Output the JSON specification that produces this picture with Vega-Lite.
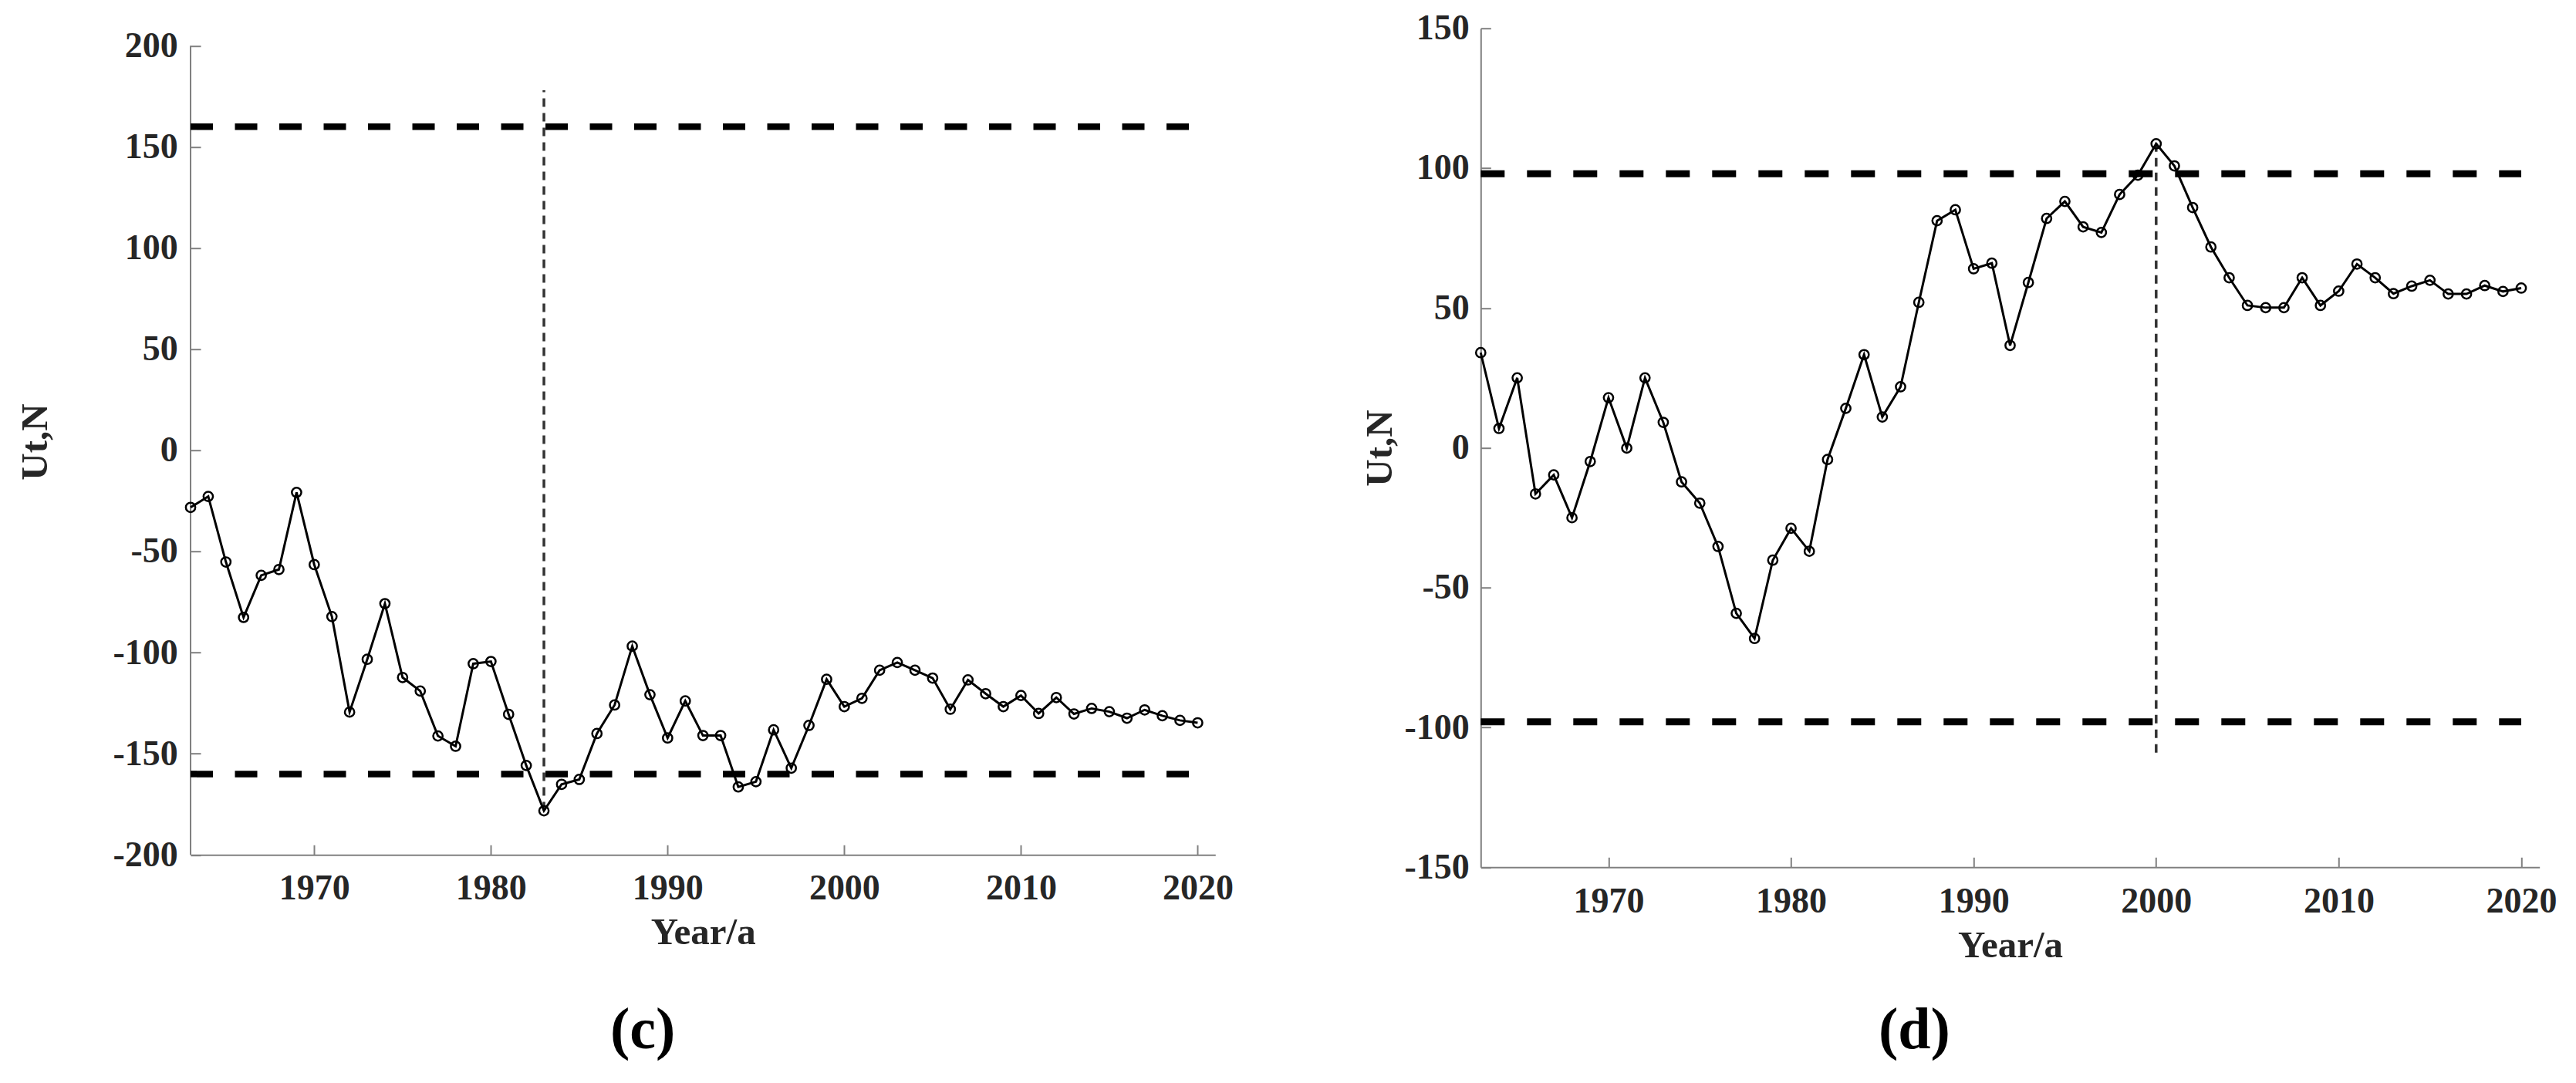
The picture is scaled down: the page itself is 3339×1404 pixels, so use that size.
{
  "$schema": "https://vega.github.io/schema/vega-lite/v6.json",
  "padding": {"left": 21, "top": 13.7, "right": 20, "bottom": 20},
  "background": "#ffffff",
  "bounds": "flush",
  "spacing": 343.3,
  "config": {
    "view": {"stroke": null},
    "font": "Liberation Serif",
    "axis": {
      "grid": false,
      "domainColor": "#808080",
      "domainWidth": 2,
      "tickColor": "#808080",
      "tickWidth": 2,
      "tickSize": -13,
      "labelFont": "Liberation Serif",
      "labelFontWeight": "bold",
      "labelFontSize": 46,
      "labelColor": "#262626",
      "labelOverlap": false,
      "labelFlush": false,
      "titleFont": "Liberation Serif",
      "titleFontWeight": "bold",
      "titleFontSize": 49,
      "titleColor": "#262626"
    }
  },
  "datasets": {
    "c": [
      {"year": 1963, "ut": -28.2}, {"year": 1964, "ut": -22.8}, {"year": 1965, "ut": -55.2}, {"year": 1966, "ut": -82.6},
      {"year": 1967, "ut": -61.8}, {"year": 1968, "ut": -58.9}, {"year": 1969, "ut": -20.8}, {"year": 1970, "ut": -56.5},
      {"year": 1971, "ut": -82.2}, {"year": 1972, "ut": -129.4}, {"year": 1973, "ut": -103.3}, {"year": 1974, "ut": -75.8},
      {"year": 1975, "ut": -112.3}, {"year": 1976, "ut": -119.0}, {"year": 1977, "ut": -141.2}, {"year": 1978, "ut": -146.3},
      {"year": 1979, "ut": -105.5}, {"year": 1980, "ut": -104.4}, {"year": 1981, "ut": -130.5}, {"year": 1982, "ut": -155.8},
      {"year": 1983, "ut": -178.2}, {"year": 1984, "ut": -165.1}, {"year": 1985, "ut": -162.7}, {"year": 1986, "ut": -140.0},
      {"year": 1987, "ut": -125.9}, {"year": 1988, "ut": -96.8}, {"year": 1989, "ut": -120.8}, {"year": 1990, "ut": -142.2},
      {"year": 1991, "ut": -123.9}, {"year": 1992, "ut": -141.0}, {"year": 1993, "ut": -141.0}, {"year": 1994, "ut": -166.4},
      {"year": 1995, "ut": -163.8}, {"year": 1996, "ut": -138.2}, {"year": 1997, "ut": -157.1}, {"year": 1998, "ut": -136.0},
      {"year": 1999, "ut": -113.2}, {"year": 2000, "ut": -126.7}, {"year": 2001, "ut": -122.6}, {"year": 2002, "ut": -108.7},
      {"year": 2003, "ut": -104.9}, {"year": 2004, "ut": -108.7}, {"year": 2005, "ut": -112.6}, {"year": 2006, "ut": -128.0},
      {"year": 2007, "ut": -113.5}, {"year": 2008, "ut": -120.3}, {"year": 2009, "ut": -126.7}, {"year": 2010, "ut": -121.2},
      {"year": 2011, "ut": -130.1}, {"year": 2012, "ut": -122.2}, {"year": 2013, "ut": -130.3}, {"year": 2014, "ut": -127.6},
      {"year": 2015, "ut": -129.2}, {"year": 2016, "ut": -132.4}, {"year": 2017, "ut": -128.3}, {"year": 2018, "ut": -131.2},
      {"year": 2019, "ut": -133.5}, {"year": 2020, "ut": -134.7}
    ],
    "d": [
      {"year": 1963, "ut": 34.0}, {"year": 1964, "ut": 6.9}, {"year": 1965, "ut": 25.0}, {"year": 1966, "ut": -16.5},
      {"year": 1967, "ut": -9.7}, {"year": 1968, "ut": -25.0}, {"year": 1969, "ut": -4.9}, {"year": 1970, "ut": 17.9},
      {"year": 1971, "ut": -0.1}, {"year": 1972, "ut": 25.0}, {"year": 1973, "ut": 9.1}, {"year": 1974, "ut": -12.2},
      {"year": 1975, "ut": -19.8}, {"year": 1976, "ut": -35.3}, {"year": 1977, "ut": -59.2}, {"year": 1978, "ut": -68.2},
      {"year": 1979, "ut": -40.2}, {"year": 1980, "ut": -28.8}, {"year": 1981, "ut": -37.0}, {"year": 1982, "ut": -4.2},
      {"year": 1983, "ut": 14.1}, {"year": 1984, "ut": 33.3}, {"year": 1985, "ut": 11.0}, {"year": 1986, "ut": 21.8},
      {"year": 1987, "ut": 52.0}, {"year": 1988, "ut": 81.2}, {"year": 1989, "ut": 85.1}, {"year": 1990, "ut": 64.0},
      {"year": 1991, "ut": 66.0}, {"year": 1992, "ut": 36.6}, {"year": 1993, "ut": 59.1}, {"year": 1994, "ut": 82.0},
      {"year": 1995, "ut": 88.1}, {"year": 1996, "ut": 79.0}, {"year": 1997, "ut": 77.0}, {"year": 1998, "ut": 90.6},
      {"year": 1999, "ut": 97.5}, {"year": 2000, "ut": 108.7}, {"year": 2001, "ut": 100.8}, {"year": 2002, "ut": 85.9},
      {"year": 2003, "ut": 71.8}, {"year": 2004, "ut": 60.8}, {"year": 2005, "ut": 50.9}, {"year": 2006, "ut": 50.1},
      {"year": 2007, "ut": 50.1}, {"year": 2008, "ut": 60.8}, {"year": 2009, "ut": 50.9}, {"year": 2010, "ut": 56.0},
      {"year": 2011, "ut": 65.7}, {"year": 2012, "ut": 60.8}, {"year": 2013, "ut": 55.1}, {"year": 2014, "ut": 57.8},
      {"year": 2015, "ut": 59.9}, {"year": 2016, "ut": 55.0}, {"year": 2017, "ut": 55.0}, {"year": 2018, "ut": 58.0},
      {"year": 2019, "ut": 55.9}, {"year": 2020, "ut": 57.1}
    ]
  },
  "hconcat": [
    {
      "width": 1328.3,
      "height": 1071.6,
      "title": {"text": "(c)", "orient": "bottom", "frame": "group", "anchor": "middle", "baseline": "top", "offset": 65, "dx": -78, "font": "Liberation Serif", "fontSize": 76, "fontWeight": "bold", "color": "#000000"},
      "encoding": {
        "x": {"field": "year", "type": "quantitative", "title": "Year/a", "scale": {"domain": [1963, 2021], "nice": false, "zero": false},
          "axis": {"values": [1970, 1980, 1990, 2000, 2010, 2020], "format": "d", "labelPadding": 34.5, "titlePadding": 10}},
        "y": {"field": "ut", "type": "quantitative", "title": "Ut,N", "scale": {"domain": [-200, 208.62], "nice": false, "zero": false},
          "axis": {"values": [-200, -150, -100, -50, 0, 50, 100, 150, 200], "domain": false, "labelPadding": 29.7, "titlePadding": 75.7,
            "labelExpr": "datum.value < 0 ? '-' + (-datum.value) : '' + datum.value"}}
      },
      "layer": [
        {
          "data": {"values": [{"year": 1963, "ut": -200, "ut2": 200}]},
          "mark": {"type": "rule", "color": "#808080", "strokeWidth": 2},
          "encoding": {"y2": {"field": "ut2"}}
        },
        {
          "data": {"values": [{"year": 1963, "year2": 2020, "ut": 160}, {"year": 1963, "year2": 2020, "ut": -160}]},
          "mark": {"type": "rule", "color": "#000000", "strokeWidth": 8.5, "strokeDash": [29, 28.5]},
          "encoding": {"x2": {"field": "year2"}}
        },
        {
          "data": {"values": [{"year": 1983, "ut": -178, "ut2": 178}]},
          "mark": {"type": "rule", "color": "#333333", "strokeWidth": 3.5, "strokeDash": [11, 8]},
          "encoding": {"y2": {"field": "ut2"}}
        },
        {
          "data": {"name": "c"},
          "mark": {"type": "line", "color": "#000000", "strokeWidth": 3, "point": {"filled": false, "stroke": "#000000", "strokeWidth": 2.5, "size": 150}},
          "encoding": {}
        }
      ]
    },
    {
      "width": 1372.4,
      "height": 1087.6,
      "title": {"text": "(d)", "orient": "bottom", "frame": "group", "anchor": "middle", "baseline": "top", "offset": 49, "dx": -124, "font": "Liberation Serif", "fontSize": 76, "fontWeight": "bold", "color": "#000000"},
      "encoding": {
        "x": {"field": "year", "type": "quantitative", "title": "Year/a", "scale": {"domain": [1963, 2021], "nice": false, "zero": false},
          "axis": {"values": [1970, 1980, 1990, 2000, 2010, 2020], "format": "d", "labelPadding": 35.2, "titlePadding": 10}},
        "y": {"field": "ut", "type": "quantitative", "title": "Ut,N", "scale": {"domain": [-150, 150], "nice": false, "zero": false},
          "axis": {"values": [-150, -100, -50, 0, 50, 100, 150], "labelPadding": 28, "titlePadding": 6,
            "labelExpr": "datum.value < 0 ? '-' + (-datum.value) : '' + datum.value"}}
      },
      "layer": [
        {
          "data": {"values": [{"year": 1963, "year2": 2020, "ut": 98}, {"year": 1963, "year2": 2020, "ut": -98}]},
          "mark": {"type": "rule", "color": "#000000", "strokeWidth": 9, "strokeDash": [31, 29]},
          "encoding": {"x2": {"field": "year2"}}
        },
        {
          "data": {"values": [{"year": 2000, "ut": -109, "ut2": 109}]},
          "mark": {"type": "rule", "color": "#333333", "strokeWidth": 3.5, "strokeDash": [11, 8]},
          "encoding": {"y2": {"field": "ut2"}}
        },
        {
          "data": {"name": "d"},
          "mark": {"type": "line", "color": "#000000", "strokeWidth": 3, "point": {"filled": false, "stroke": "#000000", "strokeWidth": 2.5, "size": 150}},
          "encoding": {}
        }
      ]
    }
  ]
}
